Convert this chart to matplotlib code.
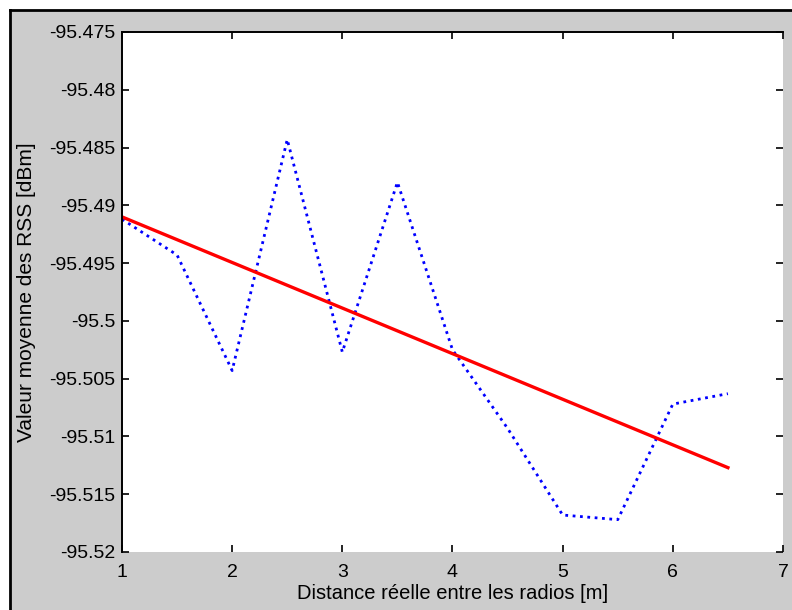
import matplotlib
matplotlib.use("Agg")
import matplotlib.pyplot as plt
from matplotlib.patches import Rectangle

plt.rcParams['font.family'] = ['Liberation Sans', 'DejaVu Sans']

# Mean RSS measured at each real distance between the radios
distance_m = [1.0, 1.5, 2.0, 2.5, 3.0, 3.5, 4.0, 4.5, 5.0, 5.5, 6.0, 6.5]
rss_mean_dbm = [-95.4912, -95.4943, -95.5043, -95.4843, -95.5027, -95.4880,
                -95.5025, -95.5093, -95.5168, -95.5172, -95.5072, -95.5063]

# Linear trend line (end points)
fit_x = [1.0, 6.5]
fit_y = [-95.4910, -95.5127]

x_ticks = [1, 2, 3, 4, 5, 6, 7]
y_ticks = [-95.475, -95.48, -95.485, -95.49, -95.495, -95.5,
           -95.505, -95.51, -95.515, -95.52]
y_tick_labels = ['-95.475', '-95.48', '-95.485', '-95.49', '-95.495', '-95.5',
                 '-95.505', '-95.51', '-95.515', '-95.52']

W, H = 792, 610
fig = plt.figure(figsize=(W / 100, H / 100), dpi=100)
fig.patch.set_facecolor('white')

# Grey window area with its dark border on the top and left edges
bg = Rectangle((10 / W, 0), 1 - 10 / W, 1 - 10 / H,
               transform=fig.transFigure, facecolor='#cccccc',
               edgecolor='none', zorder=-10)
fig.add_artist(bg)
fig.add_artist(plt.Line2D([10 / W, 1], [1 - 10 / H, 1 - 10 / H],
                          transform=fig.transFigure, color='black', lw=2,
                          zorder=-5))
fig.add_artist(plt.Line2D([10 / W, 10 / W], [0, 1 - 10 / H],
                          transform=fig.transFigure, color='black', lw=2,
                          zorder=-5))

ax = fig.add_axes([122 / W, (H - 552) / H, (783 - 122) / W, (552 - 32) / H])
ax.set_facecolor('white')

ax.plot(distance_m, rss_mean_dbm, linestyle=':', color='#0000ff', lw=2.0)
ax.plot(fit_x, fit_y, linestyle='-', color='#ff0000', lw=2.4)

ax.set_xlim(1, 7)
ax.set_ylim(-95.52, -95.475)
ax.set_xticks(x_ticks)
ax.set_xticklabels([str(t) for t in x_ticks])
ax.set_yticks(y_ticks)
ax.set_yticklabels(y_tick_labels)

ax.tick_params(direction='in', length=5, width=1.2, labelsize=14,
               top=True, right=True, colors='black')
ax.tick_params(axis='x', pad=8.5)
ax.tick_params(axis='y', pad=5)

for side in ('left', 'top'):
    ax.spines[side].set_linewidth(1.4)
    ax.spines[side].set_color('black')
for side in ('right', 'bottom'):
    ax.spines[side].set_visible(False)

ax.set_xlabel('Distance réelle entre les radios [m]', fontsize=14.5,
              labelpad=2)
ax.set_ylabel('Valeur moyenne des RSS [dBm]', fontsize=15, labelpad=9)

fig.savefig('out.png', dpi=100, facecolor=fig.get_facecolor())
